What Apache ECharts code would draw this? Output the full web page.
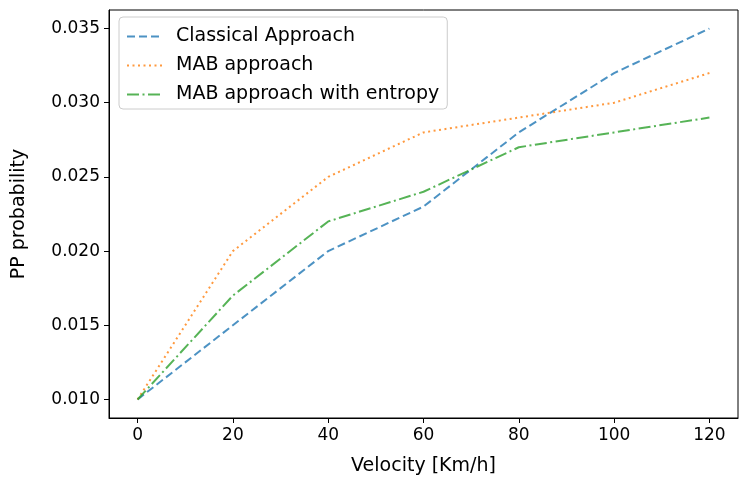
<!DOCTYPE html>
<html>
<head>
<meta charset="utf-8">
<script src="https://cdn.jsdelivr.net/npm/echarts@6/dist/echarts.min.js"></script>
<style>
  html, body { margin: 0; padding: 0; background: #fff; }
  #chart { width: 741px; height: 481px; }
</style>
</head>
<body>
<div id="chart"></div>
<script>
// velocity values on the x axis
const velocity = [0, 20, 40, 60, 80, 100, 120];
const classical = [0.010, 0.015, 0.020, 0.023, 0.028, 0.032, 0.035];
const mab = [0.010, 0.020, 0.025, 0.028, 0.029, 0.030, 0.032];
const mabEntropy = [0.010, 0.017, 0.022, 0.024, 0.027, 0.028, 0.029];
const xTicks = [0, 20, 40, 60, 80, 100, 120];
const yTicks = [0.010, 0.015, 0.020, 0.025, 0.030, 0.035];

const font = 'DejaVu Sans';
const pairs = ys => velocity.map((v, i) => [v, ys[i]]);

function lineSeries(name, ys, color, dash) {
  return {
    name: name,
    type: 'line',
    data: pairs(ys),
    symbol: 'none',
    lineStyle: { color: color, width: 2, type: dash, opacity: 0.8 },
    itemStyle: { color: color, opacity: 0.8 }
  };
}

let option = {
  animation: false,
  backgroundColor: '#fff',
  grid: {
    left: 109, right: 3, top: 10, bottom: 63,
    show: true, borderColor: '#000', borderWidth: 1, backgroundColor: 'transparent'
  },
  legend: {
    orient: 'vertical',
    left: 119, top: 17,
    itemWidth: 36, itemHeight: 14, itemGap: 10,
    padding: [10, 8, 5, 7],
    backgroundColor: 'rgba(255,255,255,0.8)',
    borderColor: '#cccccc', borderWidth: 1, borderRadius: 4,
    itemStyle: { opacity: 0 },
    textStyle: { fontFamily: font, fontSize: 19, color: '#000', padding: [0, 0, 0, 8] },
    data: ['Classical Approach', 'MAB approach', 'MAB approach with entropy']
  },
  xAxis: {
    type: 'value',
    min: -6, max: 126,
    name: 'Velocity [Km/h]',
    nameLocation: 'middle',
    nameGap: 39,
    nameTextStyle: { fontFamily: font, fontSize: 19, color: '#000', verticalAlign: 'top' },
    axisLine: { show: true, onZero: false, lineStyle: { color: '#000', width: 1 } },
    axisTick: { show: true, length: 5, lineStyle: { color: '#000' }, customValues: xTicks },
    axisLabel: { fontFamily: font, fontSize: 17, color: '#000', margin: 9, customValues: xTicks },
    splitLine: { show: false }
  },
  yAxis: {
    type: 'value',
    min: 0.00875, max: 0.03625,
    name: 'PP probability',
    nameLocation: 'middle',
    nameGap: 80,
    nameRotate: 90,
    nameTextStyle: { fontFamily: font, fontSize: 19, color: '#000' },
    axisLine: { show: true, onZero: false, lineStyle: { color: '#000', width: 1 } },
    axisTick: { show: true, length: 5, lineStyle: { color: '#000' }, customValues: yTicks },
    axisLabel: {
      fontFamily: font, fontSize: 17, color: '#000', margin: 9, customValues: yTicks,
      formatter: v => v.toFixed(3)
    },
    splitLine: { show: false }
  },
  series: [
    lineSeries('Classical Approach', classical, '#1f77b4', [8, 4]),
    lineSeries('MAB approach', mab, '#ff7f0e', [2, 3.5]),
    lineSeries('MAB approach with entropy', mabEntropy, '#2ca02c', [12, 3.5, 2, 3.5])
  ]
};

let myChart = echarts.init(document.getElementById('chart'));
myChart.setOption(option);
window.addEventListener('resize', function () {
  myChart.resize()
})
</script>
</body>
</html>
